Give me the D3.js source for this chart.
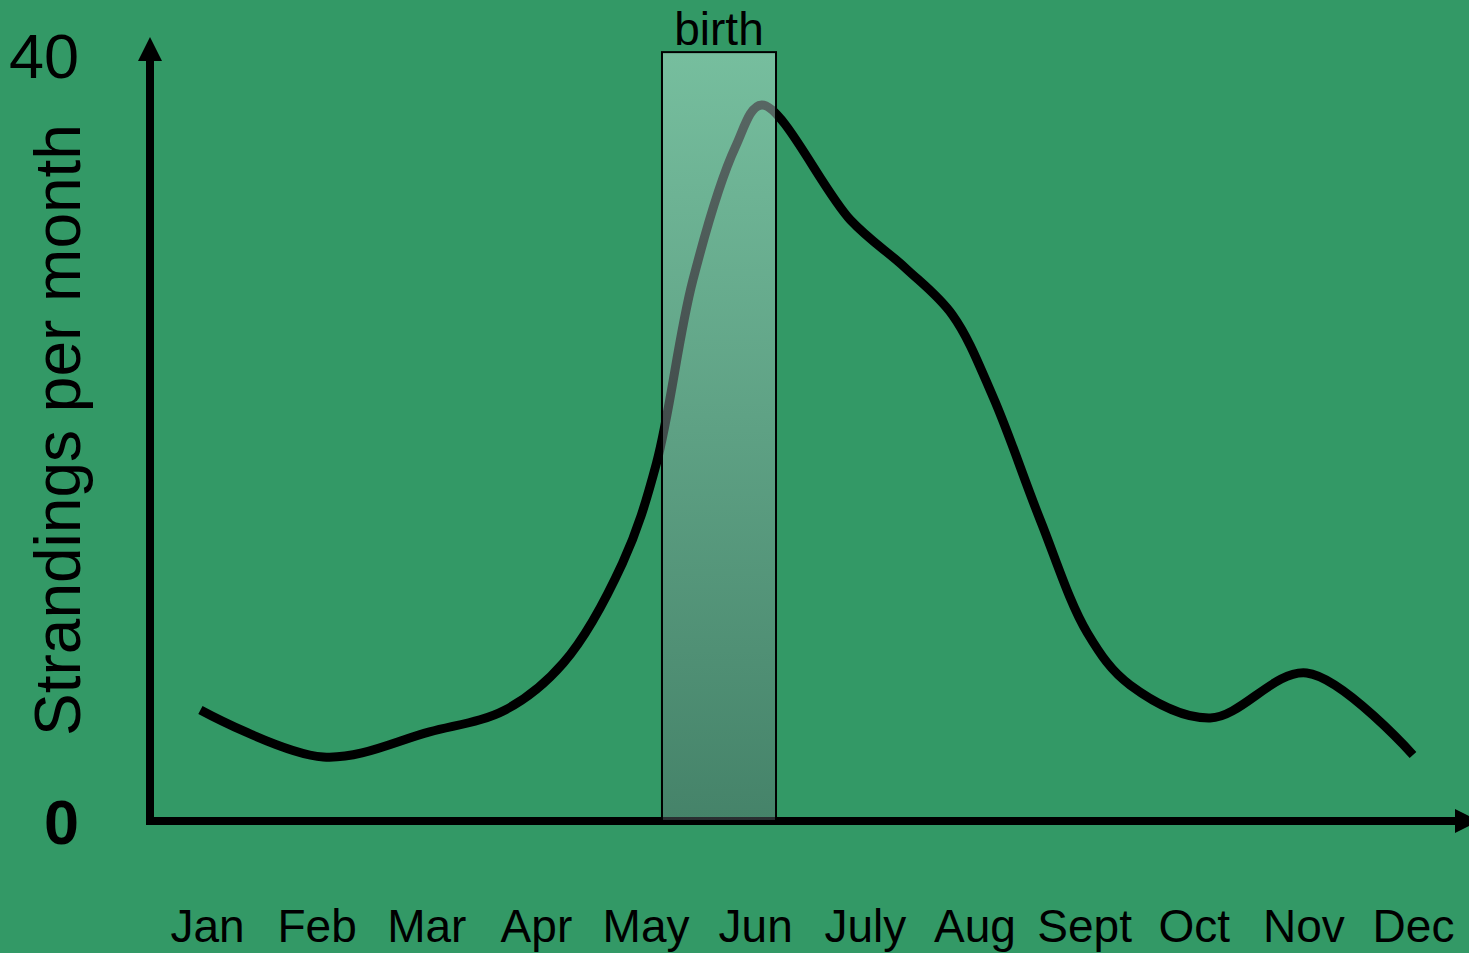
<!DOCTYPE html>
<html>
<head>
<meta charset="utf-8">
<script src="https://cdn.jsdelivr.net/npm/d3@7"></script>
<style>
  html, body { margin: 0; padding: 0; background: #339966; overflow: hidden; }
  text { font-family: 'Liberation Sans', Arial, sans-serif; }
</style>
</head>
<body>
<svg id="chart" width="1469" height="953"></svg>
<script>
// month labels, curve is given in month-index units (0 = Jan)
var months = ['Jan', 'Feb', 'Mar', 'Apr', 'May', 'Jun', 'July', 'Aug', 'Sept', 'Oct', 'Nov', 'Dec']
var curveMonth = [-0.06, 1.06, 2.03, 2.72, 3.25, 3.79, 4.10, 4.43, 4.82, 5.06,
  5.87, 6.37, 6.80, 7.17, 7.60, 8.03, 8.42, 9.15, 10.03, 11.0]
var curveValue = [5.8, 3.34, 4.65, 5.8, 8.25, 13.47, 18.69, 28.2, 35.2, 37.39,
  31.38, 28.88, 26.42, 22.14, 15.72, 9.82, 7.1, 5.38, 7.73, 3.45]
var yTicks = [0, 40]
var birthSpan = [4.15, 5.19] // months
var birthTop = 40.15
var yTitle = 'Strandings per month'

var svg = d3.select('#chart')
var W = 1469, H = 953

var x = d3.scaleLinear().domain([0, 11]).range([207, 1413])
var y = d3.scaleLinear().domain([0, 40]).range([821, 55])

svg.append('rect').attr('width', W).attr('height', H).attr('fill', '#339966')

var defs = svg.append('defs')
var grad = defs.append('linearGradient')
  .attr('id', 'birthGrad')
  .attr('x1', 0).attr('y1', 0).attr('x2', 0).attr('y2', 1)
grad.append('stop').attr('offset', '0%').attr('stop-color', '#c8ebe2')
grad.append('stop').attr('offset', '100%').attr('stop-color', '#5b686d')

// axes with arrow heads
var axisX0 = 150
var axes = svg.append('g')
axes.append('line')
  .attr('x1', axisX0).attr('x2', axisX0)
  .attr('y1', y(0) + 4).attr('y2', 58)
  .attr('stroke', '#000').attr('stroke-width', 8)
axes.append('path')
  .attr('d', 'M' + (axisX0 - 12) + ',61L' + axisX0 + ',37L' + (axisX0 + 12) + ',61Z')
  .attr('fill', '#000')
axes.append('line')
  .attr('x1', axisX0 - 4).attr('x2', 1458)
  .attr('y1', y(0)).attr('y2', y(0))
  .attr('stroke', '#000').attr('stroke-width', 8)
axes.append('path')
  .attr('d', 'M1455,' + (y(0) - 12) + 'L1479,' + y(0) + 'L1455,' + (y(0) + 12) + 'Z')
  .attr('fill', '#000')

// curve
var pts = curveMonth.map(function (m, i) { return [m, curveValue[i]] })
var line = d3.line()
  .x(function (d) { return x(d[0]) })
  .y(function (d) { return y(d[1]) })
  .curve(d3.curveCatmullRom.alpha(0.5))

svg.append('path')
  .datum(pts)
  .attr('d', line)
  .attr('fill', 'none')
  .attr('stroke', '#000')
  .attr('stroke-width', 9)
  .attr('stroke-linecap', 'butt')
  .attr('stroke-linejoin', 'round')

// birth band, sits over the curve
svg.append('rect')
  .attr('x', x(birthSpan[0]))
  .attr('width', x(birthSpan[1]) - x(birthSpan[0]))
  .attr('y', y(birthTop))
  .attr('height', y(0) - y(birthTop))
  .attr('fill', 'url(#birthGrad)')
  .attr('fill-opacity', 0.45)
  .attr('stroke', '#000')
  .attr('stroke-width', 2)

svg.append('text')
  .attr('x', (x(birthSpan[0]) + x(birthSpan[1])) / 2)
  .attr('y', 45)
  .attr('text-anchor', 'middle')
  .attr('font-size', 46)
  .attr('fill', '#000')
  .text('birth')

// month labels
var xAxis = d3.axisBottom(x)
  .tickValues(d3.range(months.length))
  .tickFormat(function (d) { return months[d] })
  .tickSize(0)
var gx = svg.append('g').attr('transform', 'translate(0,' + y(0) + ')').call(xAxis)
gx.select('.domain').remove()
gx.selectAll('text')
  .attr('y', 121).attr('dy', 0)
  .attr('font-size', 46)
  .attr('font-family', "'Liberation Sans', Arial, sans-serif")
  .attr('fill', '#000')

// y tick labels
var yAxis = d3.axisLeft(y).tickValues(yTicks).tickSize(0)
var gy = svg.append('g').attr('transform', 'translate(' + axisX0 + ',0)').call(yAxis)
gy.select('.domain').remove()
gy.selectAll('text')
  .attr('x', -71).attr('dy', '0.36em')
  .attr('font-size', 63)
  .attr('font-family', "'Liberation Sans', Arial, sans-serif")
  .attr('font-weight', function (d) { return d === 0 ? 'bold' : 'normal' })
  .attr('fill', '#000')

svg.append('text')
  .attr('transform', 'translate(80,430) rotate(-90)')
  .attr('text-anchor', 'middle')
  .attr('font-size', 64)
  .attr('fill', '#000')
  .text(yTitle)
</script>
</body>
</html>
